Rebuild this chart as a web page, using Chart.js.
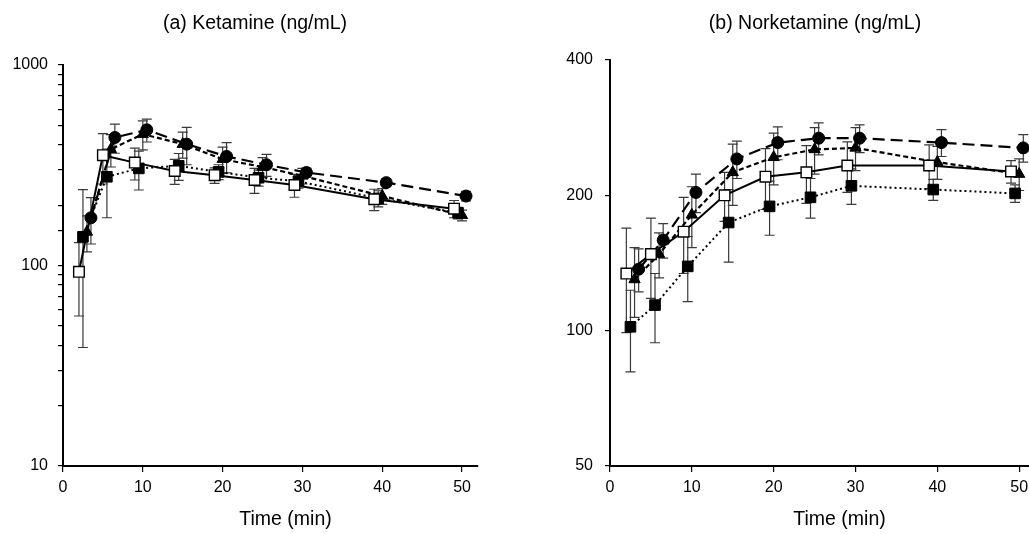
<!DOCTYPE html>
<html>
<head>
<meta charset="utf-8">
<script src="https://cdn.jsdelivr.net/npm/chart.js@4.4.1/dist/chart.umd.min.js"></script>
<style>
  body { margin: 0; background: #fff; overflow: hidden; }
  .panel { position: absolute; top: 0; }
</style>
</head>
<body>
<div class="panel" style="left:0"><canvas id="ketamineChart" width="515" height="534"></canvas></div>
<div class="panel" style="left:515px"><canvas id="norketamineChart" width="530" height="534"></canvas></div>
<script>
// sampling times (each group is offset a little on the x axis)
const timeOpenSquare = [2, 5, 9, 14, 19, 24, 29, 39, 49];
const timeFilledSquare = [2.5, 5.5, 9.5, 14.5, 19.5, 24.5, 29.5, 39.5, 49.5];
const timeTriangle = [3, 6, 10, 15, 20, 25, 30, 40, 50];
const timeCircle = [3.5, 6.5, 10.5, 15.5, 20.5, 25.5, 30.5, 40.5, 50.5];

// (a) Ketamine, mean and SD
const ketOpenSquare = [93, 355, 326, 296, 282, 267, 252, 214, 192];
const ketOpenSquareSd = [37, 100, 59, 42, 25, 38, 33, 26, 19];
const ketFilledSquare = [139, 277, 305, 314, 293, 274, 263, 216, 183];
const ketFilledSquareSd = [100, 104, 67, 48, 25, 25, 20, 20, 12];
const ketTriangle = [147, 380, 452, 403, 339, 310, 280, 222, 178];
const ketTriangleSd = [30, 70, 75, 60, 50, 35, 25, 20, 11];
const ketCircle = [173, 435, 475, 403, 350, 318, 291, 259, 222];
const ketCircleSd = [45, 72, 62, 85, 60, 40, 15, 12, 12];

// (b) Norketamine, mean and SD
const norOpenSquare = [134, 148, 166, 200, 220, 225, 233, 233, 226];
const norOpenSquareSd = [35, 30, 32, 25, 34, 33, 30, 26, 13];
const norFilledSquare = [102, 114, 139, 174, 189, 198, 210, 206, 202];
const norFilledSquareSd = [21, 20, 23, 32, 26, 20, 19, 11, 9];
const norTriangle = [130, 148, 181, 225, 243, 253, 255, 237, 223];
const norTriangleSd = [23, 17, 28, 35, 32, 30, 28, 20, 18];
const norCircle = [137, 159, 203, 241, 262, 268, 268, 262, 255];
const norCircleSd = [15, 14, 20, 23, 22, 22, 19, 18, 18];

// axis ticks
const xTicks = [0, 10, 20, 30, 40, 50];
const ketLabelTicks = [10, 100, 1000];
const norTicks = [50, 100, 200, 400];

const FONT = "'Liberation Sans', Arial, sans-serif";

const errorBars = {
  id: 'errorBars',
  beforeDatasetsDraw(chart) {
    const ctx = chart.ctx;
    const x = chart.scales.x;
    const y = chart.scales.y;
    ctx.save();
    ctx.strokeStyle = '#3a3a3a';
    ctx.lineWidth = 1.2;
    chart.data.datasets.forEach(ds => {
      ds.data.forEach((p, i) => {
        const sd = ds.sd[i];
        const px = x.getPixelForValue(p.x);
        const top = y.getPixelForValue(Math.min(p.y + sd, y.max));
        const lowVal = p.y - sd;
        const clipped = lowVal <= y.min;
        const bottom = y.getPixelForValue(clipped ? y.min : lowVal);
        ctx.beginPath();
        ctx.moveTo(px, top);
        ctx.lineTo(px, bottom);
        ctx.moveTo(px - 5, top);
        ctx.lineTo(px + 5, top);
        if (!clipped) {
          ctx.moveTo(px - 5, bottom);
          ctx.lineTo(px + 5, bottom);
        }
        ctx.stroke();
      });
    });
    ctx.restore();
  }
};

// panel title and x axis caption; both sit a bit right of the plot centre like the original
const captions = {
  id: 'captions',
  afterDraw(chart, args, opts) {
    const ctx = chart.ctx;
    const area = chart.chartArea;
    ctx.save();
    ctx.fillStyle = '#000';
    ctx.font = '19.5px ' + FONT;
    ctx.textAlign = 'center';
    ctx.textBaseline = 'middle';
    ctx.fillText(opts.title, opts.titleX, 24);
    ctx.fillText(opts.xTitle, (area.left + area.right) / 2 + opts.xTitleDx, 520);
    ctx.restore();
  }
};

function points(times, values) {
  return times.map((t, i) => ({ x: t, y: values[i] }));
}

function makeDatasets(open, openSd, filled, filledSd, tri, triSd, circ, circSd) {
  return [
    {
      data: points(timeOpenSquare, open), sd: openSd,
      borderColor: '#000', borderWidth: 2,
      pointStyle: 'rect', pointRadius: 7.5, pointBackgroundColor: '#fff',
      pointBorderColor: '#000', pointBorderWidth: 1.4
    },
    {
      data: points(timeFilledSquare, filled), sd: filledSd,
      borderColor: '#000', borderWidth: 2, borderDash: [2, 3],
      pointStyle: 'rect', pointRadius: 7.5, pointBackgroundColor: '#000',
      pointBorderColor: '#000', pointBorderWidth: 1
    },
    {
      data: points(timeTriangle, tri), sd: triSd,
      borderColor: '#000', borderWidth: 2.2, borderDash: [5, 3],
      pointStyle: 'triangle', pointRadius: 6.5, pointBackgroundColor: '#000',
      pointBorderColor: '#000', pointBorderWidth: 1
    },
    {
      data: points(timeCircle, circ), sd: circSd,
      borderColor: '#000', borderWidth: 2.2, borderDash: [12, 6],
      pointStyle: 'circle', pointRadius: 6, pointBackgroundColor: '#000',
      pointBorderColor: '#000', pointBorderWidth: 1
    }
  ];
}

function makeChart(canvasId, title, titleX, topPad, datasets, xMax, yMin, yMax,
                   yAxisWidth, rightPad, xTitleDx, yTickSetup) {
  const ctx = document.getElementById(canvasId).getContext('2d');
  return new Chart(ctx, {
    type: 'line',
    data: { datasets: datasets },
    options: {
      responsive: false,
      animation: false,
      layout: { padding: { left: 0, right: rightPad, top: topPad, bottom: 0 } },
      plugins: {
        legend: { display: false },
        tooltip: { enabled: false },
        title: { display: false },
        captions: { title: title, titleX: titleX, xTitle: 'Time (min)', xTitleDx: xTitleDx }
      },
      scales: {
        x: {
          type: 'linear',
          min: 0,
          max: xMax,
          afterBuildTicks: scale => { scale.ticks = xTicks.map(v => ({ value: v })); },
          afterFit: scale => { scale.height = 68; },
          ticks: { color: '#000', font: { family: FONT, size: 16 }, padding: 6, maxRotation: 0 },
          grid: { drawOnChartArea: false, tickLength: 6, color: '#000', lineWidth: 1.2 },
          border: { color: '#000', width: 2 }
        },
        y: Object.assign({
          type: 'logarithmic',
          min: yMin,
          max: yMax,
          afterFit: scale => { scale.width = yAxisWidth; },
          grid: { drawOnChartArea: false, tickLength: 5, color: '#000', lineWidth: 1.2 },
          border: { color: '#000', width: 2 }
        }, yTickSetup)
      }
    },
    plugins: [errorBars, captions]
  });
}

makeChart('ketamineChart', '(a) Ketamine (ng/mL)', 255, 65,
  makeDatasets(ketOpenSquare, ketOpenSquareSd, ketFilledSquare, ketFilledSquareSd,
               ketTriangle, ketTriangleSd, ketCircle, ketCircleSd),
  52, 10, 1000, 63, 37, 15,
  {
    ticks: {
      color: '#000', font: { family: FONT, size: 16 }, padding: 10, autoSkip: false,
      callback: v => ketLabelTicks.includes(v) ? String(v) : ''
    }
  });

makeChart('norketamineChart', '(b) Norketamine (ng/mL)', 300, 60,
  makeDatasets(norOpenSquare, norOpenSquareSd, norFilledSquare, norFilledSquareSd,
               norTriangle, norTriangleSd, norCircle, norCircleSd),
  51.2, 50, 400, 95, 16, 20,
  {
    afterBuildTicks: scale => { scale.ticks = norTicks.map(v => ({ value: v })); },
    ticks: {
      color: '#000', font: { family: FONT, size: 16 }, padding: 12, autoSkip: false,
      callback: v => String(v)
    }
  });
</script>
</body>
</html>
